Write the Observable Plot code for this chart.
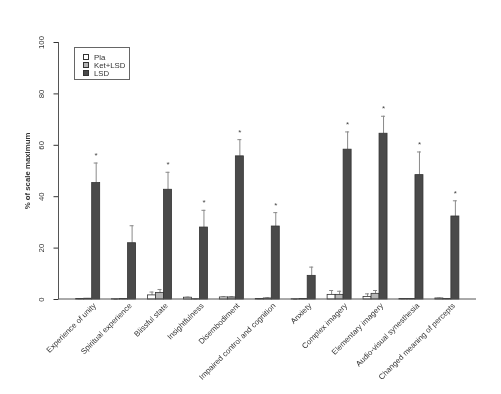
<!DOCTYPE html>
<html>
<head>
<meta charset="utf-8">
<script src="https://cdn.jsdelivr.net/npm/d3@7"></script>
<script src="https://cdn.jsdelivr.net/npm/@observablehq/plot@0.6"></script>
<style>
  html, body { margin: 0; padding: 0; background: #fff; }
  #wrap { position: relative; width: 501px; height: 394px; font-family: "Liberation Sans", Arial, sans-serif; filter: grayscale(100%); }
  #legend { position: absolute; left: 74px; top: 47px; width: 54px; height: 31px; border: 1px solid #666; box-sizing: content-box; font-size: 7.8px; color: #333; }
  #legend .row { position: absolute; left: 8px; height: 8px; line-height: 8px; white-space: nowrap; }
  #legend .sw { display: inline-block; width: 4px; height: 4px; border: 0.8px solid #333; margin-right: 5px; vertical-align: middle; position: relative; top: -1px; }
</style>
</head>
<body>
<div id="wrap"><div id="legend"></div></div>
<script>
const categories = [
  "Experience of unity", "Spiritual experience", "Blissful state", "Insightfulness",
  "Disembodiment", "Impaired control and cognition", "Anxiety", "Complex imagery",
  "Elementary imagery", "Audio-visual synesthesia", "Changed meaning of percepts"
];
const groups = ["Pla", "Ket+LSD", "LSD"];
const groupColors = ["#ffffff", "#b5b5b5", "#4a4a4a"];
const pla   = [0.2, 0.1, 1.6, 0.7, 0.8, 0.2, 0.1, 1.8, 1.0, 0.2, 0.4];
const plaSE = [0.1, 0.0, 1.3, 0.2, 0.2, 0.1, 0.0, 1.7, 1.2, 0.1, 0.1];
const ket   = [0.3, 0.2, 2.5, 0.1, 0.8, 0.4, 0.2, 1.8, 2.2, 0.2, 0.2];
const ketSE = [0.1, 0.1, 1.4, 0.1, 0.2, 0.2, 0.1, 1.4, 1.3, 0.1, 0.1];
const lsd   = [45.3, 21.9, 42.7, 28.0, 55.7, 28.4, 9.2, 58.3, 64.5, 48.4, 32.3];
const lsdSE = [7.8, 6.8, 6.8, 6.7, 6.5, 5.4, 3.4, 6.9, 6.8, 9.0, 6.1];
const lsdSig = [true, false, true, true, true, true, false, true, true, true, true];
const yTicks = [0, 20, 40, 60, 80, 100];
const yLabel = "% of scale maximum";

const rows = categories.flatMap((c, i) => [
  {cat: c, group: "Pla", value: pla[i], se: plaSE[i], sig: false},
  {cat: c, group: "Ket+LSD", value: ket[i], se: ketSE[i], sig: false},
  {cat: c, group: "LSD", value: lsd[i], se: lsdSE[i], sig: lsdSig[i]}
]);

const W = 501, H = 394;
const mL = 58.5, mR = 25, mT = 42, mB = 95;
const fxOpts = {domain: categories, paddingInner: 0.25, paddingOuter: 0.4365, align: 0.5, round: false};
const font = "Liberation Sans, Arial, sans-serif";

// probe render to find where the first facet starts
const probe = Plot.plot({
  width: W, height: H, marginLeft: mL, marginRight: mR, marginTop: mT, marginBottom: mB,
  fx: fxOpts, x: {domain: groups, padding: 0, axis: null}, y: {domain: [0, 100], axis: null},
  marks: [Plot.barY(rows, {fx: "cat", x: "group", y: "value"})]
});
const off = probe.scale("fx").apply(categories[0]) - mL;

const chart = Plot.plot({
  width: W, height: H,
  marginLeft: mL, marginRight: mR, marginTop: mT, marginBottom: mB,
  style: {fontFamily: font, fontSize: "7.8px", color: "#333", background: "white"},
  fx: fxOpts,
  x: {domain: groups, padding: 0, axis: null},
  y: {domain: [0, 100]},
  color: {domain: groups, range: groupColors},
  marks: [
    Plot.axisY({ticks: yTicks, tickSize: 5, tickPadding: 9.7, dx: -off,
      label: yLabel, labelAnchor: "center", labelOffset: 50, labelArrow: "none", fontSize: 7.8}),
    Plot.axisFx({anchor: "bottom", tickSize: 0, tickRotate: -45, tickPadding: 5, dx: 6.5, label: null, fontSize: 7.8}),
    Plot.ruleX(rows, {fx: "cat", x: "group", y1: "value", y2: d => d.value + d.se, stroke: "#8a8a8a", strokeWidth: 1}),
    Plot.tickY(rows, {fx: "cat", x: "group", y: d => d.value + d.se, stroke: "#8a8a8a", strokeWidth: 1, insetLeft: 2, insetRight: 2}),
    Plot.barY(rows, {fx: "cat", x: "group", y: "value", fill: "group", stroke: "#333", strokeWidth: 0.8}),
    Plot.text(rows.filter(d => d.sig), {fx: "cat", x: "group", y: d => d.value + d.se, text: () => "*", dy: -7.5, fontSize: 8, fill: "#444"})
  ]
});

const svg = d3.select(chart);
// L-shaped box around the plot region (left and bottom), placed with the y scale
const ys = chart.scale("y");
svg.append("path")
  .attr("d", `M${mL},${ys.apply(100)}V${ys.apply(0)}H${W - mR}`)
  .attr("fill", "none").attr("stroke", "#555").attr("stroke-width", 1);
// bold y-axis title
svg.selectAll("[aria-label='y-axis label'] text").attr("font-weight", "bold");
// y tick labels read bottom-to-top, as in the reference
svg.selectAll("[aria-label='y-axis tick label'] text").each(function () {
  const t = d3.select(this);
  const tr = t.attr("transform");
  if (tr && /translate/.test(tr)) {
    if (!/rotate/.test(tr)) t.attr("transform", tr + " rotate(-90)");
  } else {
    const x = +t.attr("x") || 0, y = +t.attr("y") || 0;
    t.attr("x", x).attr("y", y).attr("transform", `rotate(-90 ${x} ${y})`);
  }
  t.attr("y", null).attr("dy", null).attr("text-anchor", "middle");
  t.selectAll("tspan").attr("y", null).attr("dy", null);
});

document.getElementById("wrap").prepend(chart);

// legend
const legend = document.getElementById("legend");
groups.forEach((g, i) => {
  const row = document.createElement("div");
  row.className = "row";
  row.style.top = (6 + i * 8) + "px";
  const sw = document.createElement("span");
  sw.className = "sw";
  sw.style.background = groupColors[i];
  row.appendChild(sw);
  row.appendChild(document.createTextNode(g));
  legend.appendChild(row);
});
</script>
</body>
</html>
